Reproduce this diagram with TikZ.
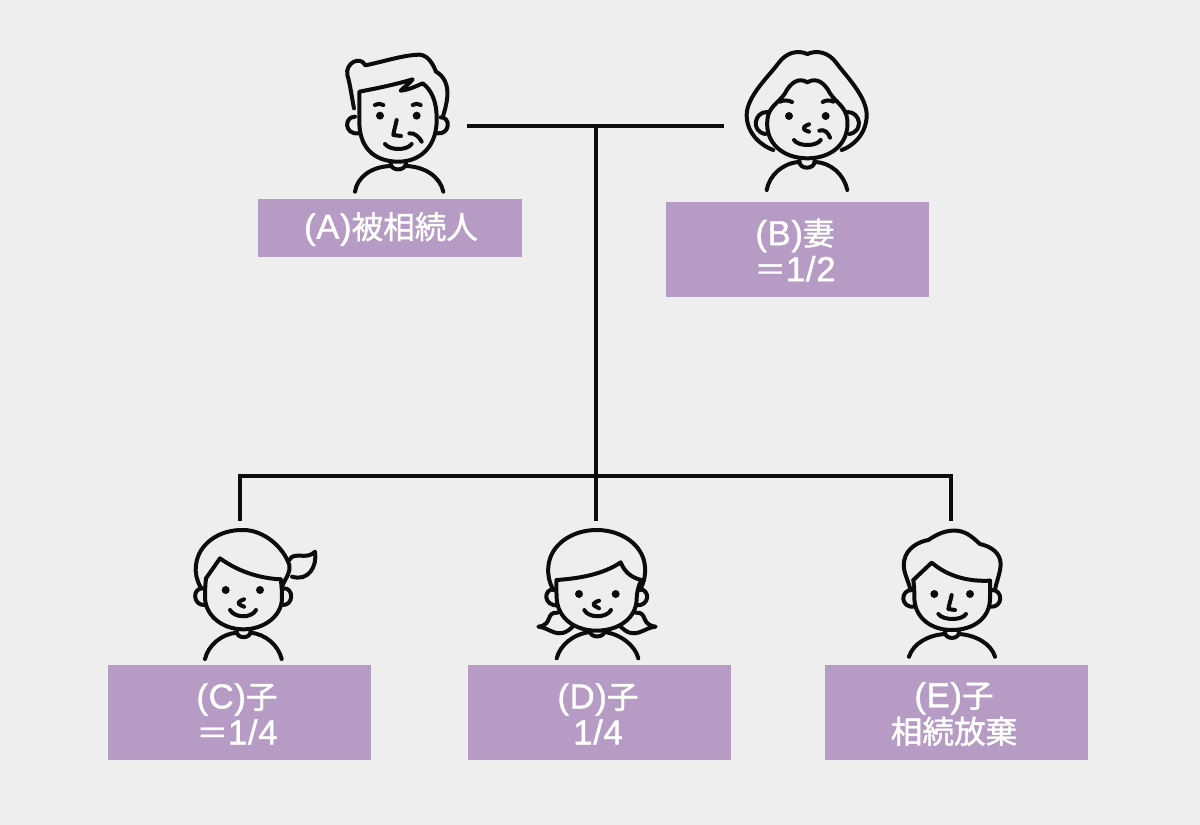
\documentclass[tikz,border=0pt]{standalone}
\usepackage{fontspec}
\setmainfont{Liberation Sans}[Scale=1.13,FakeBold=1.2,LetterSpace=2]
\newfontfamily\cjk{Noto Sans CJK JP}[Scale=1.03,FakeBold=1.2]
\definecolor{bgc}{HTML}{EEEEEE}
\definecolor{boxc}{HTML}{B69CC4}
\definecolor{ink}{HTML}{0C0C0C}
\tikzset{
  labelbox/.style={fill=boxc,inner sep=0pt,minimum width=197.5pt},
  labeltext/.style={text=white,inner sep=0pt,align=center,font=\fontsize{23}{27}\selectfont},
  link/.style={draw=ink,line width=3.4pt},
  face/.style={draw=ink,line width=3pt,line cap=round,line join=round,x=0.25pt,y=-0.25pt},
  eye/.style={fill=ink,draw=none}
}
\begin{document}
\begin{tikzpicture}[x=0.75pt,y=-0.75pt]
\useasboundingbox (0,0) rectangle (1200,825);
\fill[bgc] (0,0) rectangle (1200,825);

% label boxes
\node[labelbox,minimum width=198pt,minimum height=43.5pt] (la) at (390,228) {};
\node[labeltext] (lat) at (391,229) {(A){\cjk 被相続人}};
\node[labelbox,minimum height=71.25pt] (lb) at (797.5,249.5) {};
\node[labeltext] (lbt) at (795,250) {(B){\cjk 妻}\\{\cjk ＝}1/2};
\node[labelbox,minimum height=71.25pt] (lc) at (239.5,712.5) {};
\node[labeltext] (lct) at (237,714) {(C){\cjk 子}\\{\cjk ＝}1/4};
\node[labelbox,minimum height=71.25pt] (ld) at (599.5,712.5) {};
\node[labeltext] (ldt) at (598,714) {(D){\cjk 子}\\1/4};
\node[labelbox,minimum height=71.25pt] (le) at (956.5,712.5) {};
\node[labeltext] (let) at (954,714) {(E){\cjk 子}\\{\cjk 相続放棄}};

% connector ends
\coordinate (afree) at (467,126);
\coordinate (bfree) at (724,126);
\coordinate (jtop) at (596,126);
\coordinate (jmid) at (596,476);
\coordinate (cfree) at (240,521);
\coordinate (dfree) at (596,521);
\coordinate (efree) at (951,521);
\draw[link] (afree) -- (bfree);
\draw[link] (jtop) -- (dfree);
\draw[link] (cfree) |- (jmid) -| (efree);

% A: father
\begin{scope}[shift={(330,40)},x=0.25pt,y=-0.25pt]
\draw[face] (88,155) .. controls (140,145) and (190,135) .. (248,118) .. controls (235,135) and (222,140) .. (212,152) .. controls (235,150) and (255,140) .. (278,130) .. controls (305,150) and (320,185) .. (320,235) .. controls (322,315) and (275,365) .. (205,365) .. controls (130,365) and (86,320) .. (88,240) -- cycle;
\draw[face] (72,205) .. controls (65,170) and (60,130) .. (52,105) .. controls (45,70) and (90,45) .. (106,76) .. controls (160,65) and (220,45) .. (268,44) .. controls (295,45) and (310,75) .. (318,95) .. controls (342,108) and (355,135) .. (352,170) .. controls (350,190) and (345,210) .. (340,225);
\draw[face] (75,230) .. controls (42,230) and (42,284) .. (85,280);
\draw[face] (332,232) .. controls (362,230) and (362,284) .. (322,280);
\fill[eye] (150,227) circle[radius=12]; \fill[eye] (260,227) circle[radius=12];
\draw[face] (135,195) .. controls (142,190) and (152,190) .. (160,195);
\draw[face] (248,195) .. controls (255,190) and (265,190) .. (272,195);
\draw[face] (200,240) .. controls (197,255) and (192,270) .. (190,285) -- (213,288);
\draw[face] (165,312) .. controls (180,332) and (230,332) .. (245,312);
\draw[face] (238,280) .. controls (255,278) and (268,292) .. (275,305);
\draw[face] (182,368) .. controls (180,395) and (228,395) .. (228,368);
\draw[face] (75,455) .. controls (82,410) and (125,380) .. (182,378);
\draw[face] (228,378) .. controls (285,380) and (330,410) .. (340,455);
\end{scope}

% B: wife
\begin{scope}[shift={(730,40)},x=0.25pt,y=-0.25pt]
\draw[face] (232,42) .. controls (205,30) and (170,35) .. (145,70) .. controls (115,110) and (50,170) .. (50,225) .. controls (50,285) and (100,320) .. (130,330);
\draw[face] (232,42) .. controls (260,30) and (295,35) .. (320,70) .. controls (350,110) and (410,170) .. (410,225) .. controls (410,285) and (365,320) .. (335,330);
\draw[face] (232,127) .. controls (205,110) and (180,130) .. (165,160) .. controls (145,190) and (115,200) .. (112,240) .. controls (105,310) and (160,355) .. (232,355) .. controls (305,355) and (358,310) .. (352,240) .. controls (348,200) and (320,190) .. (300,160) .. controls (285,130) and (260,110) .. (232,127);
\draw[face] (112,216) .. controls (72,215) and (62,275) .. (106,282);
\draw[face] (352,216) .. controls (392,215) and (402,275) .. (358,282);
\draw[face] (150,185) .. controls (160,180) and (175,180) .. (186,186);
\draw[face] (278,186) .. controls (288,180) and (300,180) .. (310,185);
\fill[eye] (177,228) circle[radius=12]; \fill[eye] (287,228) circle[radius=12];
\draw[face] (237,253) .. controls (222,258) and (218,265) .. (222,268) .. controls (226,272) and (232,273) .. (237,275);
\draw[face] (192,300) .. controls (205,320) and (260,320) .. (272,300);
\draw[face] (268,272) .. controls (282,266) and (295,278) .. (300,293);
\draw[face] (208,362) .. controls (206,390) and (256,390) .. (254,362);
\draw[face] (110,450) .. controls (118,405) and (160,368) .. (208,366);
\draw[face] (254,366) .. controls (305,368) and (342,405) .. (352,450);
\end{scope}

% C: girl with ponytail
\begin{scope}[shift={(180,510)},x=0.25pt,y=-0.25pt]
\draw[face] (62,232) .. controls (50,210) and (45,190) .. (48,165) .. controls (55,100) and (120,58) .. (190,60) .. controls (250,60) and (310,110) .. (328,165) .. controls (332,185) and (320,200) .. (308,225);
\draw[face] (78,205) -- (120,145) .. controls (175,185) and (240,205) .. (302,208);
\draw[face] (78,205) .. controls (75,230) and (75,250) .. (75,265) .. controls (78,320) and (130,358) .. (190,358) .. controls (250,358) and (305,320) .. (306,265) .. controls (306,245) and (305,225) .. (302,208);
\draw[face] (328,150) .. controls (342,122) and (380,152) .. (405,125) .. controls (412,170) and (385,215) .. (336,200);
\draw[face] (70,235) .. controls (35,232) and (38,288) .. (75,285);
\draw[face] (310,235) .. controls (342,232) and (342,288) .. (306,285);
\fill[eye] (137,240) circle[radius=12]; \fill[eye] (240,240) circle[radius=12];
\draw[face] (192,268) .. controls (178,272) and (172,280) .. (178,283) .. controls (182,286) and (188,288) .. (192,290);
\draw[face] (150,300) .. controls (165,325) and (215,325) .. (228,300);
\draw[face] (170,362) .. controls (168,388) and (214,388) .. (212,362);
\draw[face] (75,447) .. controls (85,405) and (125,372) .. (170,368);
\draw[face] (212,368) .. controls (255,372) and (295,405) .. (305,447);
\end{scope}

% D: girl with pigtails
\begin{scope}[shift={(525,510)},x=0.25pt,y=-0.25pt]
\draw[face] (85,240) .. controls (72,215) and (68,195) .. (70,170) .. controls (75,105) and (140,60) .. (215,60) .. controls (290,60) and (355,105) .. (360,170) .. controls (362,195) and (358,215) .. (345,240);
\draw[face] (95,210) .. controls (170,205) and (240,190) .. (287,157) .. controls (300,190) and (325,205) .. (350,210);
\draw[face] (95,210) .. controls (92,225) and (95,250) .. (95,265) .. controls (98,325) and (150,362) .. (215,362) .. controls (280,362) and (335,325) .. (335,265) .. controls (335,250) and (340,225) .. (350,210);
\draw[face] (85,238) .. controls (55,238) and (55,288) .. (98,286);
\draw[face] (345,238) .. controls (375,238) and (375,288) .. (335,286);
\draw[face] (98,308) .. controls (60,305) and (85,345) .. (40,350) .. controls (75,352) and (100,395) .. (145,348);
\draw[face] (332,308) .. controls (370,305) and (345,345) .. (392,350) .. controls (355,352) and (330,395) .. (285,348);
\fill[eye] (162,252) circle[radius=12]; \fill[eye] (272,252) circle[radius=12];
\draw[face] (222,272) .. controls (208,276) and (202,284) .. (208,287) .. controls (212,290) and (218,292) .. (222,295);
\draw[face] (178,300) .. controls (190,325) and (245,325) .. (258,300);
\draw[face] (195,362) .. controls (193,385) and (240,385) .. (238,362);
\draw[face] (95,445) .. controls (105,405) and (145,372) .. (195,366);
\draw[face] (238,366) .. controls (285,372) and (330,405) .. (340,445);
\end{scope}

% E: boy
\begin{scope}[shift={(885,510)},x=0.25pt,y=-0.25pt]
\draw[face] (76,238) .. controls (70,210) and (50,180) .. (58,150) .. controls (65,115) and (100,95) .. (130,90) .. controls (160,70) and (185,60) .. (215,62) .. controls (250,65) and (270,90) .. (285,102) .. controls (320,110) and (348,130) .. (347,165) .. controls (345,190) and (335,215) .. (330,238);
\draw[face] (85,210) -- (140,158) .. controls (190,200) and (250,215) .. (315,212);
\draw[face] (85,210) .. controls (88,230) and (88,250) .. (88,265) .. controls (90,325) and (140,360) .. (200,360) .. controls (265,360) and (315,325) .. (315,265) -- (315,212);
\draw[face] (82,240) .. controls (45,238) and (45,295) .. (88,290);
\draw[face] (320,240) .. controls (355,238) and (355,295) .. (315,290);
\fill[eye] (148,252) circle[radius=12]; \fill[eye] (255,252) circle[radius=12];
\draw[face] (200,255) .. controls (197,270) and (192,285) .. (190,297) -- (210,300);
\draw[face] (160,312) .. controls (175,332) and (230,332) .. (243,312);
\draw[face] (180,365) .. controls (178,390) and (224,390) .. (222,365);
\draw[face] (72,440) .. controls (85,400) and (130,375) .. (180,372);
\draw[face] (222,372) .. controls (270,375) and (318,400) .. (330,440);
\end{scope}
\end{tikzpicture}
\end{document}
